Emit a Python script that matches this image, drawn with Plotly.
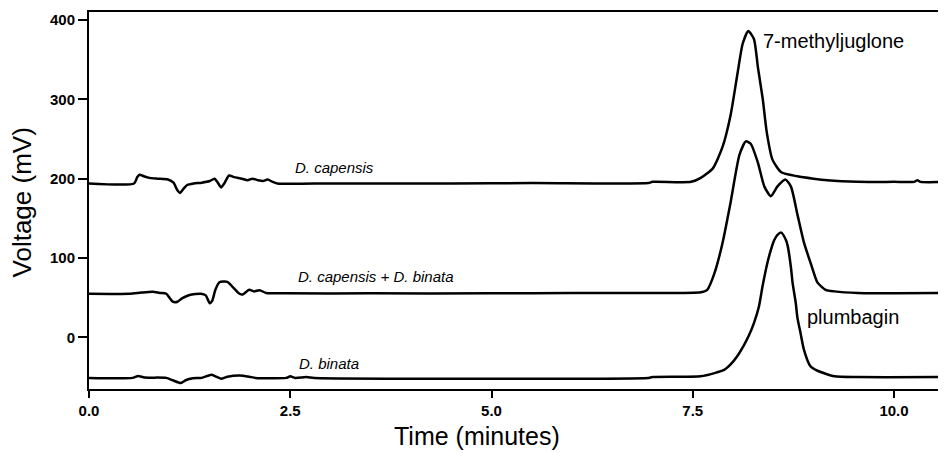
import plotly.graph_objects as go

# D. capensis trace
time_cap = [0, 0.56, 0.60, 0.63, 0.68, 0.75, 0.85, 0.98, 1.05, 1.10, 1.13, 1.18, 1.22, 1.30, 1.40,
            1.50, 1.56, 1.60, 1.64, 1.68, 1.74, 1.80, 1.90, 1.97, 2.03, 2.10, 2.16, 2.22, 2.28, 2.34,
            3.0, 4.5, 5.5, 6.95, 7.0, 7.48, 7.60, 7.75, 7.87, 7.97, 8.06, 8.12, 8.19, 8.26, 8.31,
            8.37, 8.42, 8.49, 8.60, 8.80, 9.00, 9.17, 9.55, 10.0, 10.25, 10.29, 10.33, 10.65]
volt_cap = [194, 194, 202, 205, 203, 201, 200, 199, 195, 185, 182, 188, 192, 194, 195,
            197, 200, 195, 189, 194, 204, 202, 200, 198, 200, 198, 197, 199, 196, 194,
            194, 194, 194.5, 194.5, 196, 196, 201, 213, 240, 280, 335, 370, 386, 376, 340,
            300, 258, 224, 208, 203, 200, 198, 196, 196, 196, 198, 196, 196]

# D. capensis + D. binata trace
time_mix = [0, 0.50, 0.65, 0.79, 0.88, 0.96, 1.00, 1.04, 1.10, 1.16, 1.25, 1.39, 1.45, 1.50, 1.53,
            1.57, 1.62, 1.72, 1.78, 1.87, 1.91, 1.99, 2.05, 2.12, 2.20, 2.45, 3.5, 5.0, 6.0, 7.0,
            7.60, 7.68, 7.77, 7.87, 7.97, 8.08, 8.16, 8.22, 8.31, 8.39, 8.47, 8.55, 8.65, 8.72,
            8.80, 8.88, 8.97, 9.05, 9.15, 9.26, 9.55, 10.65]
volt_mix = [55, 55, 56.5, 57.5, 56, 55, 50, 45, 45, 49.5, 53.5, 55, 53, 43, 46,
            60, 69.5, 70, 64, 55, 54, 60, 58, 59.5, 56, 55.5, 55.5, 55.5, 56, 56,
            57, 60, 81, 119, 170, 230, 247, 244, 220, 190, 178, 190, 199, 190,
            155, 120, 92, 69, 60, 58, 56, 56]

# D. binata trace
time_bin = [0, 0.54, 0.61, 0.69, 0.96, 1.04, 1.14, 1.20, 1.29, 1.40, 1.52, 1.57, 1.64, 1.72, 1.87,
            1.99, 2.07, 2.45, 2.50, 2.56, 2.70, 2.80, 6.95, 7.0, 7.60, 7.77, 7.89, 7.97, 8.05, 8.14,
            8.20, 8.26, 8.32, 8.37, 8.43, 8.47, 8.51, 8.55, 8.60, 8.66, 8.68, 8.72, 8.74, 8.78, 8.80,
            8.84, 8.88, 8.96, 9.05, 9.26, 9.55, 10.65]
volt_bin = [-51, -51, -48.5, -50.5, -51, -54, -57.5, -54, -51.5, -51, -47, -49, -52, -49.5, -48,
            -49.5, -51, -51, -49, -51, -50, -51, -51, -50, -49, -45, -41, -34, -24, -9,
            3, 18, 38, 66, 95, 110, 122, 129, 132, 122, 115, 88, 69, 43, 25,
            5, -15, -36, -42, -49, -50, -50]

x_ticks = [0, 2.5, 5, 7.5, 10]
x_ticklabels = ["0.0", "2.5", "5.0", "7.5", "10.0"]
y_ticks = [0, 100, 200, 300, 400]

trace_labels = ["<i>D. capensis</i>", "<i>D. capensis + D. binata</i>", "<i>D. binata</i>"]
trace_label_x = [2.53, 2.57, 2.59]
trace_label_y = [214, 77, -33]
peak_labels = ["7-methyljuglone", "plumbagin"]
peak_label_x = [8.35, 8.89]
peak_label_y = [373, 26]

FONT = "Arial, Liberation Sans, sans-serif"

fig = go.Figure()
for t, v in [(time_cap, volt_cap), (time_mix, volt_mix), (time_bin, volt_bin)]:
    fig.add_trace(go.Scatter(x=t, y=v, mode="lines",
                             line=dict(color="black", width=2.5, shape="spline", smoothing=0.6),
                             showlegend=False, hoverinfo="skip"))

annotations = []
for txt, x, y in zip(trace_labels, trace_label_x, trace_label_y):
    annotations.append(dict(text=txt, x=x, y=y, xref="x", yref="y", xanchor="left", yanchor="middle",
                            showarrow=False, font=dict(family=FONT, size=15, color="black")))
for txt, x, y in zip(peak_labels, peak_label_x, peak_label_y):
    annotations.append(dict(text=txt, x=x, y=y, xref="x", yref="y", xanchor="left", yanchor="middle",
                            showarrow=False, font=dict(family=FONT, size=20, color="black")))
annotations.append(dict(text="Time (minutes)", x=4.82, y=0, xref="x", yref="paper", xanchor="center",
                        yanchor="middle", yshift=-47, showarrow=False,
                        font=dict(family=FONT, size=25, color="black")))
annotations.append(dict(text="Voltage (mV)", x=0, y=170, xref="paper", yref="y", xanchor="center",
                        yanchor="middle", xshift=-67, textangle=-90, showarrow=False,
                        font=dict(family=FONT, size=26, color="black")))

# page body has an 8px margin, so the figure is sized to end at the window edge
fig.update_layout(
    width=938, height=445,
    margin=dict(l=81, r=0, t=4, b=64),
    paper_bgcolor="white", plot_bgcolor="white",
    annotations=annotations,
    xaxis=dict(range=[0, 10.646], tickmode="array", tickvals=x_ticks, ticktext=x_ticklabels,
               showgrid=False, zeroline=False, showline=True, linecolor="black", linewidth=2,
               mirror=True, ticks="outside", ticklen=7, tickwidth=1.5, tickcolor="black",
               tickfont=dict(family=FONT, size=15, color="black", weight="bold")),
    yaxis=dict(range=[-65, 410], tickmode="array", tickvals=y_ticks,
               showgrid=False, zeroline=False, showline=True, linecolor="black", linewidth=2,
               mirror=False, ticks="outside", ticklen=9, tickwidth=1.5, tickcolor="black",
               tickfont=dict(family=FONT, size=15, color="black", weight="bold")),
)

fig.write_html("out.html")
